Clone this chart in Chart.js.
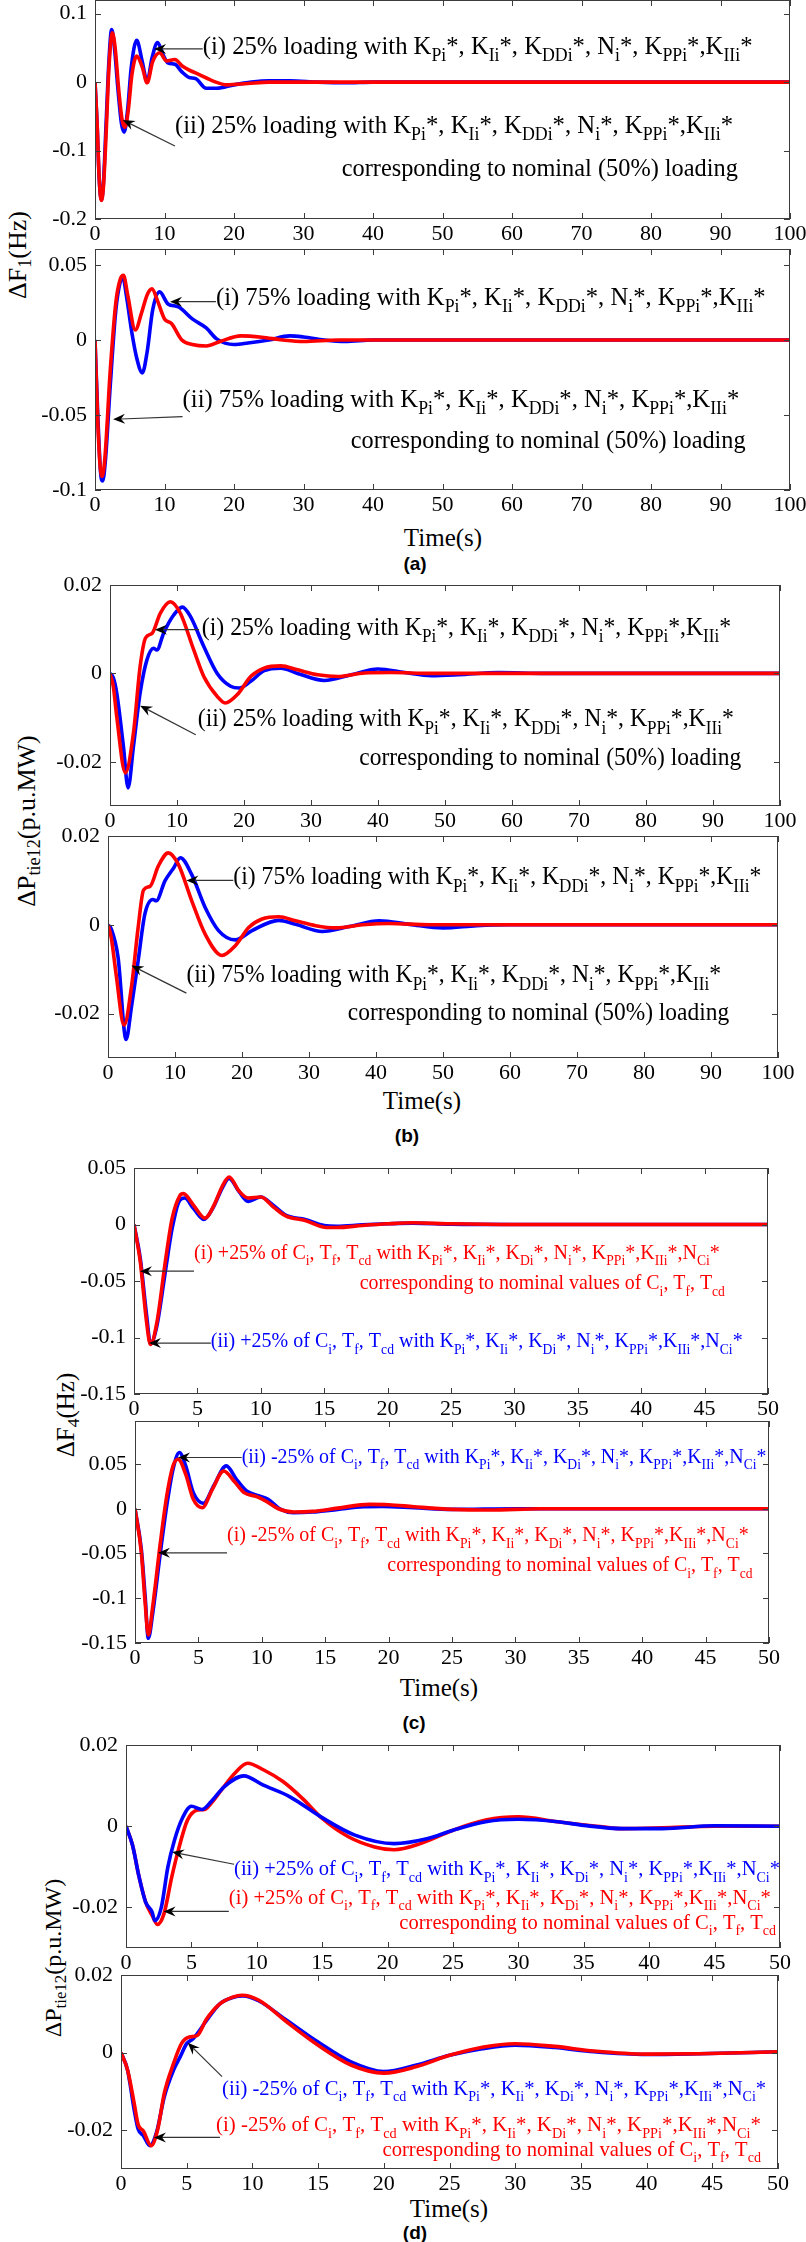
<!DOCTYPE html>
<html><head><meta charset="utf-8">
<script src="https://cdn.jsdelivr.net/npm/chart.js@4.4.0/dist/chart.umd.min.js"></script>
<style>
html,body{margin:0;padding:0;background:#fff;}
body{width:806px;height:2242px;position:relative;overflow:hidden;font-family:'Liberation Serif','Times New Roman','DejaVu Serif',serif;}
canvas.pl{position:absolute;left:0;}
.ylab{position:absolute;white-space:nowrap;transform:translate(-50%,-50%) rotate(-90deg);color:#000;line-height:1;}
.ylab sub{font-size:70%;vertical-align:-0.3em;line-height:0;}
.xlab{position:absolute;white-space:nowrap;transform:translate(-50%,-50%);font-size:25px;line-height:1;color:#000;}
.plab{position:absolute;transform:translate(-50%,-50%);font:bold 19px 'Liberation Sans',Arial,sans-serif;line-height:1;color:#000;}
</style></head><body>
<div class="ylab" style="left:18px;top:255px;font-size:26px;">ΔF<sub>1</sub>(Hz)</div>
<div class="ylab" style="left:27px;top:821px;font-size:26px;">ΔP<sub>tie12</sub>(p.u.MW)</div>
<div class="ylab" style="left:65px;top:1415px;font-size:25px;">ΔF<sub>4</sub>(Hz)</div>
<div class="ylab" style="left:53px;top:1958px;font-size:24px;">ΔP<sub>tie12</sub>(p.u.MW)</div>
<div class="xlab" style="left:443px;top:537px;">Time(s)</div>
<div class="xlab" style="left:422px;top:1100px;">Time(s)</div>
<div class="xlab" style="left:439px;top:1687px;">Time(s)</div>
<div class="xlab" style="left:449px;top:2208px;">Time(s)</div>
<div class="plab" style="left:415px;top:563px;">(a)</div>
<div class="plab" style="left:407px;top:1135px;">(b)</div>
<div class="plab" style="left:414px;top:1722px;">(c)</div>
<div class="plab" style="left:415px;top:2232px;">(d)</div>
<script>
// ---------- tick values / labels ----------
const xTicks100 = [0,10,20,30,40,50,60,70,80,90,100];
const xLabels100 = ['0','10','20','30','40','50','60','70','80','90','100'];
const xTicks50 = [0,5,10,15,20,25,30,35,40,45,50];
const xLabels50 = ['0','5','10','15','20','25','30','35','40','45','50'];
const yTicksA1 = [-0.2,-0.1,0,0.1];          const yLabelsA1 = ['-0.2','-0.1','0','0.1'];
const yTicksA2 = [-0.1,-0.05,0,0.05];        const yLabelsA2 = ['-0.1','-0.05','0','0.05'];
const yTicksB = [-0.02,0,0.02];              const yLabelsB = ['-0.02','0','0.02'];
const yTicksC = [-0.15,-0.1,-0.05,0,0.05];   const yLabelsC = ['-0.15','-0.1','-0.05','0','0.05'];
const yTicksD = [-0.02,0,0.02];              const yLabelsD = ['-0.02','0','0.02'];

// ---------- (a) top: 25% loading ----------
const aTopTBlue = [0,0.3,0.6,0.9,1.2,1.6,2.0,2.4,2.8,3.3,3.8,4.2,4.7,5.2,6.0,6.8,7.5,8.2,9.0,9.8,10.5,11.5,12.5,13.5,14.5,16,17.5,20,22.5,25,28,32,36,40,100];
const aTopBlue  = [0,-0.06,-0.14,-0.172,-0.15,-0.06,0.03,0.077,0.05,-0.01,-0.06,-0.073,-0.04,0.02,0.061,0.03,0.001,0.035,0.058,0.04,0.028,0.026,0.015,0.007,0.005,-0.009,-0.009,-0.004,0,0.002,0.002,0,-0.001,0,0];
const aTopTRed  = [0,0.3,0.6,0.9,1.2,1.6,2.0,2.5,2.9,3.4,3.9,4.3,4.8,5.3,6.0,6.8,7.5,8.3,9.3,10.3,11.5,12.5,13.5,15,17,19,22,25,100];
const aTopRed   = [0,-0.06,-0.14,-0.173,-0.155,-0.075,0.02,0.072,0.05,-0.01,-0.055,-0.066,-0.04,0.01,0.038,0.022,-0.001,0.03,0.043,0.031,0.033,0.024,0.018,0.011,0.0015,-0.004,-0.002,0,0];
// ---------- (a) bottom: 75% loading ----------
const aBotTBlue = [0,0.4,0.8,1.1,1.5,2.2,3.0,3.6,4.0,4.5,5.3,6.0,6.8,7.5,8.3,9.3,10.5,12,14,16,17.5,20,22,25,28,30,33,36,40,100];
const aBotBlue  = [0,-0.05,-0.088,-0.094,-0.08,-0.03,0.02,0.038,0.042,0.03,0.005,-0.012,-0.022,-0.008,0.02,0.032,0.024,0.022,0.014,0.008,0.0007,-0.003,-0.002,0,0.0027,0.002,0,-0.001,0,0];
const aBotTRed  = [0,0.4,0.75,1.0,1.4,2.2,3.0,3.6,4.1,4.7,5.8,6.7,7.5,8.2,9,10,11,12.5,14,16,18,21,24,27,30,35,100];
const aBotRed   = [0,-0.055,-0.085,-0.091,-0.08,-0.02,0.025,0.04,0.043,0.03,0.0067,0.018,0.03,0.034,0.026,0.014,0.011,0,-0.003,-0.004,-0.001,0.0027,0.0018,0,-0.001,0,0];
// ---------- (b) top ----------
const bTopTBlue = [0,0.5,1,2,2.7,3.5,4.5,5.5,6.5,7,8,9.5,10.8,12,14,16,18,19.3,21,23,25.5,28,32,36,40,44,48,52,58,65,100];
const bTopBlue  = [0,-0.001,-0.0044,-0.0165,-0.0259,-0.0165,-0.0044,0.003,0.0057,0.0053,0.0091,0.0132,0.015,0.0129,0.0061,0,-0.0029,-0.0033,-0.0018,0.0006,0.0012,0,-0.0016,-0.0003,0.001,0.0002,-0.0005,-0.0003,0.0002,0,0];
const bTopTRed  = [0,0.5,1,2.3,3.5,4.5,5.3,6.3,7.5,9,10.5,12.5,14,16,17.2,19,21,23,25.5,28,31,34,38,42,48,100];
const bTopRed   = [0,-0.003,-0.0097,-0.0225,-0.0135,0.0016,0.008,0.0091,0.0136,0.0162,0.0136,0.0053,-0.0007,-0.0052,-0.0067,-0.0048,-0.0007,0.0012,0.0017,0.0008,-0.0003,-0.0007,0.0001,0.0002,0,0];
// ---------- (b) bottom ----------
const bBotTBlue = [0,0.5,1.5,2.7,3.5,4.5,5.5,6.7,7.2,8.5,9.8,10.8,12.5,14.5,16.5,19,21.5,25.5,28,32,36,40.5,45,50,55,60,100];
const bBotBlue  = [0,-0.001,-0.0073,-0.0258,-0.0185,-0.0081,0.0024,0.0057,0.0054,0.0099,0.0128,0.0151,0.0113,0.0039,-0.0013,-0.0034,-0.0013,0.001,0.0001,-0.0015,-0.0004,0.0009,0.0001,-0.0007,-0.0002,0,0];
const bBotTRed  = [0,0.5,1.2,2.4,3.5,4.5,5.3,6.3,7.5,9,10.5,12.5,14.5,17,19,21,23,25.5,28,31,34,38,42,48,100];
const bBotRed   = [0,-0.003,-0.011,-0.0226,-0.014,-0.0006,0.0078,0.0087,0.0132,0.0162,0.0136,0.0054,-0.0021,-0.0069,-0.0047,-0.0006,0.0013,0.0018,0.0009,-0.0002,-0.0007,0,0.0003,0,0];
// ---------- (c) top: +25% ----------
const cTopTBlue = [0,0.5,1,1.3,1.8,2.5,3,3.6,4,4.7,5.5,6.2,7,7.5,8.3,9,10,11,12,13.5,15,16,18,20,22,25,30,50];
const cTopBlue  = [0,-0.0306,-0.081,-0.1056,-0.09,-0.0395,-0.004,0.0214,0.0234,0.014,0.0045,0.014,0.0332,0.0407,0.0288,0.0205,0.0243,0.0169,0.008,0.0045,-0.0009,-0.0015,-0.0003,0.0006,0.0012,0.0003,0,0];
const cTopTRed  = [0,0.5,1,1.3,1.8,2.5,3,3.6,3.9,4.7,5.6,6.3,7,7.5,8.3,9,10,11,12,13.5,15,16,18,20,22,25,30,50];
const cTopRed   = [0,-0.0335,-0.087,-0.1062,-0.087,-0.0306,0.005,0.0252,0.0273,0.0169,0.0056,0.0169,0.0347,0.0421,0.0294,0.0234,0.0243,0.0154,0.0074,0.0036,-0.0024,-0.0027,-0.0009,0.0006,0.0015,0.0006,0,0];
// ---------- (c) bottom: -25% ----------
const cBotTBlue = [0,0.5,0.8,1.05,1.4,2,2.5,3,3.5,4,4.6,5.4,6.2,7.2,8,8.8,9.8,10.5,11.5,12.5,14,16,18,19.5,22,25,30,50];
const cBotBlue  = [0,-0.0456,-0.098,-0.1447,-0.1166,-0.049,0.003,0.044,0.0628,0.0479,0.018,0.006,0.0254,0.0479,0.0329,0.0198,0.0142,0.0105,-0.0007,-0.0045,-0.0037,-0.0007,0.0022,0.0026,0.0011,-0.0007,0,0];
const cBotTRed  = [0,0.5,0.8,1.05,1.4,2,2.5,3,3.4,4,4.6,5.3,6.1,7,7.8,8.6,9.6,10.3,11.3,12.5,14,16,18.5,20,22,25,28,32,50];
const cBotRed   = [0,-0.049,-0.105,-0.141,-0.109,-0.038,0.014,0.048,0.0553,0.0385,0.0105,0.0011,0.0217,0.0422,0.031,0.018,0.0135,0.0086,0,-0.0037,-0.003,0.0007,0.0049,0.0045,0.0022,-0.0007,-0.0015,0,0];
// ---------- (d) top: +25% ----------
const dTopTBlue = [0,0.5,1,1.5,2,2.2,2.7,3.2,3.7,4.3,5,5.8,6.5,7.5,9,10.5,12.5,15,17.5,20.5,23,25,27.5,30,33,35,38,41,45,50];
const dTopBlue  = [0,-0.0047,-0.0125,-0.0187,-0.0212,-0.0233,-0.02,-0.0101,-0.0035,0.0019,0.0049,0.0041,0.006,0.0097,0.0124,0.0101,0.0073,0.0021,-0.0022,-0.0043,-0.0031,-0.001,0.0011,0.0017,0.0011,0.0002,-0.0006,-0.0006,0.0001,0];
const dTopTRed  = [0,0.5,1,1.5,2,2.4,2.9,3.5,4,4.7,5.5,6,6.5,7.2,8.3,9.3,10.5,12,13.5,15,17,19,20.5,22.5,25,27.5,30,33,36,38,41,45,50];
const dTopRed   = [0,-0.0047,-0.0125,-0.0187,-0.022,-0.0242,-0.0216,-0.0125,-0.0059,0.0015,0.004,0.0041,0.0056,0.0085,0.013,0.0155,0.0139,0.011,0.0068,0.0019,-0.0026,-0.0051,-0.0058,-0.0043,-0.001,0.0015,0.0023,0.0011,0,-0.0006,-0.0004,0,0];
// ---------- (d) bottom: -25% ----------
const dBotTBlue = [0,0.5,1,1.3,1.7,2.2,2.7,3.3,4,4.5,5,5.5,6.5,7.5,8.5,9.3,10.5,12.5,15,17.5,20,22.5,25,27.5,30,33,36,40,44,50];
const dBotBlue  = [0,-0.0045,-0.0147,-0.0197,-0.0214,-0.024,-0.0206,-0.0113,-0.0045,-0.0011,0.0023,0.0036,0.0082,0.0125,0.0142,0.0146,0.0133,0.0086,0.0027,-0.0024,-0.0049,-0.0032,-0.0007,0.001,0.0019,0.0013,0.0002,-0.0005,-0.0003,0.0002];
const dBotTRed  = [0,0.5,1,1.3,1.7,2.3,2.8,3.3,4,4.6,5.2,5.8,6.5,7.5,8.5,9.2,10.5,12.5,15,17.5,20,22.5,25,27.5,30,33,36,40,44,50];
const dBotRed   = [0,-0.0045,-0.013,-0.0185,-0.0202,-0.024,-0.0197,-0.0104,-0.0028,0.0023,0.004,0.0044,0.0086,0.0125,0.0143,0.0148,0.0135,0.0082,0.0019,-0.0032,-0.0053,-0.0036,-0.0007,0.0014,0.0023,0.0016,0.0004,-0.0004,-0.0003,0.0002];

// ---------- annotation texts ----------
const KA = 'K_{Pi}*, K_{Ii}*, K_{DDi}*, N_{i}*, K_{PPi}*,K_{IIi}*';
const KC = 'K_{Pi}*, K_{Ii}*, K_{Di}*, N_{i}*, K_{PPi}*,K_{IIi}*,N_{Ci}*';
const CTT = 'C_{i}, T_{f}, T_{cd}';
const txtA1i = '(i) 25% loading with ' + KA;
const txtA1ii = '(ii) 25% loading with ' + KA;
const txtA2i = '(i) 75% loading with ' + KA;
const txtA2ii = '(ii) 75% loading with ' + KA;
const txtNom = 'corresponding to nominal (50%) loading';
const txtCp_i = '(i) +25% of ' + CTT + ' with ' + KC;
const txtCp_ii = '(ii) +25% of ' + CTT + ' with ' + KC;
const txtCm_i = '(i) -25% of ' + CTT + ' with ' + KC;
const txtCm_ii = '(ii) -25% of ' + CTT + ' with ' + KC;
const txtNomC = 'corresponding to nominal values of ' + CTT;

const BLUE = '#0000ff', RED = '#ff0000', BLK = '#000000';

// ---------- panel layout ----------
const panels = [
 {L:95,R:790,T:0,B:219,yMin:-0.2,yMax:0.12,xMax:100,xT:xTicks100,xL:xLabels100,yT:yTicksA1,yL:yLabelsA1,
  series:[[aTopTRed,aTopRed,RED],[aTopTBlue,aTopBlue,BLUE]], fs:25,
  notes:[{s:txtA1i,c:BLK,x0:15.5,x1:94.6,y:0.0413,ar:[[15.5,0.0485],[8.5,0.0485]]},
         {s:txtA1ii,c:BLK,x0:11.5,x1:91.8,y:-0.0739,ar:[[11.5,-0.0933],[4.0,-0.0554]]},
         {s:txtNom,c:BLK,x0:35.5,x1:92.5,y:-0.137}]},
 {L:95,R:790,T:249,B:490,yMin:-0.1,yMax:0.0606,xMax:100,xT:xTicks100,xL:xLabels100,yT:yTicksA2,yL:yLabelsA2,
  series:[[aBotTRed,aBotRed,RED],[aBotTBlue,aBotBlue,BLUE]], fs:25,
  notes:[{s:txtA2i,c:BLK,x0:17.4,x1:96.5,y:0.0233,ar:[[17.4,0.0255],[10.8,0.0255]]},
         {s:txtA2ii,c:BLK,x0:12.6,x1:92.7,y:-0.0445,ar:[[12.6,-0.0511],[2.6,-0.0529]]},
         {s:txtNom,c:BLK,x0:36.8,x1:93.6,y:-0.0722}]},
 {L:110,R:780,T:585,B:806,yMin:-0.03,yMax:0.02,xMax:100,xT:xTicks100,xL:xLabels100,yT:yTicksB,yL:yLabelsB,
  series:[[bTopTRed,bTopRed,RED],[bTopTBlue,bTopBlue,BLUE]], fs:25,
  notes:[{s:txtA1i,c:BLK,x0:13.7,x1:92.7,y:0.00876,ar:[[13.3,0.00989],[6.7,0.00989]]},
         {s:txtA1ii,c:BLK,x0:13.1,x1:93.1,y:-0.0120,ar:[[12.8,-0.01387],[4.5,-0.0073]]},
         {s:txtNom,c:BLK,x0:37.2,x1:94.2,y:-0.02066}]},
 {L:108,R:778,T:836,B:1058,yMin:-0.03,yMax:0.02,xMax:100,xT:xTicks100,xL:xLabels100,yT:yTicksB,yL:yLabelsB,
  series:[[bBotTRed,bBotRed,RED],[bBotTBlue,bBotBlue,BLUE]], fs:25,
  notes:[{s:txtA2i,c:BLK,x0:18.7,x1:97.5,y:0.00912,ar:[[18.7,0.0100],[11.7,0.0100]]},
         {s:txtA2ii,c:BLK,x0:11.7,x1:91.5,y:-0.01292,ar:[[11.7,-0.01539],[3.5,-0.00918]]},
         {s:txtNom,c:BLK,x0:35.8,x1:92.7,y:-0.0215}]},
 {L:134,R:768,T:1168,B:1394,yMin:-0.15,yMax:0.05,xMax:50,xT:xTicks50,xL:xLabels50,yT:yTicksC,yL:yLabelsC,
  series:[[cTopTRed,cTopRed,RED],[cTopTBlue,cTopBlue,BLUE]], fs:22,
  notes:[{s:txtCp_i,c:RED,x0:4.73,x1:46.2,y:-0.0304,ar:[[4.73,-0.0413],[0.47,-0.0413]]},
         {s:txtNomC,c:RED,x0:17.8,x1:46.6,y:-0.0570},
         {s:txtCp_ii,c:BLUE,x0:6.06,x1:48.0,y:-0.1087,ar:[[6.06,-0.1049],[1.18,-0.1049]]}]},
 {L:135,R:769,T:1421,B:1643,yMin:-0.15,yMax:0.098,xMax:50,xT:xTicks50,xL:xLabels50,yT:yTicksC,yL:yLabelsC,
  series:[[cBotTRed,cBotRed,RED],[cBotTBlue,cBotBlue,BLUE]], fs:22,
  notes:[{s:txtCm_ii,c:BLUE,x0:8.41,x1:49.8,y:0.0516,ar:[[8.41,0.0572],[3.39,0.0572]]},
         {s:txtCm_i,c:RED,x0:7.26,x1:48.4,y:-0.0363,ar:[[7.26,-0.0493],[1.81,-0.0493]]},
         {s:txtNomC,c:RED,x0:19.9,x1:48.7,y:-0.070}]},
 {L:126,R:780,T:1745,B:1948,yMin:-0.03,yMax:0.02,xMax:50,xT:xTicks50,xL:xLabels50,yT:yTicksD,yL:yLabelsD,
  series:[[dTopTBlue,dTopBlue,BLUE],[dTopTRed,dTopRed,RED]], fs:22,
  notes:[{s:txtCp_ii,c:BLUE,x0:8.26,x1:50,y:-0.0121,ar:[[8.26,-0.00938],[3.52,-0.00635]]},
         {s:txtCp_i,c:RED,x0:7.86,x1:49.3,y:-0.0191,ar:[[7.86,-0.0210],[2.87,-0.0210]]},
         {s:txtNomC,c:RED,x0:20.9,x1:49.7,y:-0.02526}]},
 {L:121,R:778,T:1975,B:2169,yMin:-0.03,yMax:0.02,xMax:50,xT:xTicks50,xL:xLabels50,yT:yTicksD,yL:yLabelsD,
  series:[[dBotTRed,dBotRed,RED],[dBotTBlue,dBotBlue,BLUE]], fs:22,
  notes:[{s:txtCm_ii,c:BLUE,x0:7.69,x1:49.1,y:-0.01085,ar:[[7.69,-0.0062],[5.08,0.00254]]},
         {s:txtCm_i,c:RED,x0:7.23,x1:48.7,y:-0.0202,ar:[[7.53,-0.02186],[2.51,-0.02186]]},
         {s:txtNomC,c:RED,x0:19.9,x1:48.7,y:-0.02653}]}
];

// ---------- drawing helpers ----------
const SERIF = "'Liberation Serif','Times New Roman','DejaVu Serif',serif";
function parseRich(s){
  const out=[]; let i=0, buf='';
  while(i<s.length){
    if(s[i]==='_' && s[i+1]==='{'){
      if(buf){out.push({t:buf,sub:false});buf='';}
      const j=s.indexOf('}',i); out.push({t:s.slice(i+2,j),sub:true}); i=j+1;
    } else { buf+=s[i]; i++; }
  }
  if(buf) out.push({t:buf,sub:false});
  return out;
}
function drawRich(ctx,s,x0,x1,y,size,color){
  const segs=parseRich(s);
  const fn=sub=>(sub?Math.round(size*0.7):size)+"px "+SERIF;
  let w=0; segs.forEach(g=>{ctx.font=fn(g.sub); w+=ctx.measureText(g.t).width;});
  const sx=(x1-x0)/w;
  ctx.save(); ctx.translate(x0,y); ctx.scale(sx,1);
  ctx.fillStyle=color; ctx.textBaseline='alphabetic'; ctx.textAlign='left';
  let x=0; segs.forEach(g=>{ctx.font=fn(g.sub); ctx.fillText(g.t,x,g.sub?size*0.3:0); x+=ctx.measureText(g.t).width;});
  ctx.restore();
}
function drawArrow(ctx,x1,y1,x2,y2){
  ctx.save(); ctx.strokeStyle='#333'; ctx.fillStyle='#000'; ctx.lineWidth=1.2;
  const a=Math.atan2(y2-y1,x2-x1), L=12, W=5, back=8;
  ctx.beginPath(); ctx.moveTo(x1,y1); ctx.lineTo(x2-Math.cos(a)*back,y2-Math.sin(a)*back); ctx.stroke();
  ctx.translate(x2,y2); ctx.rotate(a);
  ctx.beginPath(); ctx.moveTo(0,0); ctx.lineTo(-L,-W); ctx.lineTo(-back,0); ctx.lineTo(-L,W); ctx.closePath(); ctx.fill();
  ctx.restore();
}
const framePlugin = {
  id:'frame',
  afterDatasetsDraw(chart){
    const {ctx, chartArea:a, scales:{x,y}} = chart;
    ctx.save(); ctx.strokeStyle='#3c3c3c'; ctx.lineWidth=1;
    const tl=6; ctx.beginPath();
    x.ticks.forEach(t=>{const p=Math.round(x.getPixelForValue(t.value))+0.5;
      ctx.moveTo(p,a.bottom); ctx.lineTo(p,a.bottom-tl); ctx.moveTo(p,a.top); ctx.lineTo(p,a.top+tl);});
    y.ticks.forEach(t=>{const p=Math.round(y.getPixelForValue(t.value))+0.5;
      ctx.moveTo(a.left,p); ctx.lineTo(a.left+tl,p); ctx.moveTo(a.right,p); ctx.lineTo(a.right-tl,p);});
    ctx.stroke();
    ctx.strokeRect(Math.round(a.left)+0.5,Math.round(a.top)+0.5,Math.round(a.right-a.left)-1,Math.round(a.bottom-a.top)-1);
    ctx.restore();
    const notes = chart.options.plugins.notes.items, fs = chart.options.plugins.notes.fs;
    notes.forEach(n=>{
      if(n.ar){ drawArrow(ctx, x.getPixelForValue(n.ar[0][0]), y.getPixelForValue(n.ar[0][1]),
                               x.getPixelForValue(n.ar[1][0]), y.getPixelForValue(n.ar[1][1])); }
      drawRich(ctx, n.s, x.getPixelForValue(n.x0), x.getPixelForValue(n.x1), y.getPixelForValue(n.y), fs, n.c);
    });
  }
};

Chart.defaults.font.family = SERIF;
Chart.defaults.font.size = 22;
Chart.defaults.color = '#000';

const PADT = 12, XH = 30;
panels.forEach(p=>{
  const cv = document.createElement('canvas');
  cv.className='pl';
  const h = PADT + (p.B - p.T) + XH;
  cv.width = 806; cv.height = h;
  cv.style.top = (p.T - PADT) + 'px';
  cv.style.width='806px'; cv.style.height=h+'px';
  document.body.appendChild(cv);
  const datasets = p.series.map(([t,v,c])=>({
    data: t.map((tt,i)=>({x:tt,y:v[i]})),
    borderColor:c, backgroundColor:c, borderWidth:3.6, pointRadius:0,
    cubicInterpolationMode:'monotone', fill:false
  }));
  new Chart(cv,{
    type:'line',
    data:{datasets},
    options:{
      responsive:false, animation:false, devicePixelRatio:1,
      layout:{padding:{left:0,top:PADT,right:806-p.R,bottom:0}},
      plugins:{legend:{display:false},tooltip:{enabled:false},notes:{items:p.notes,fs:p.fs}},
      scales:{
        x:{type:'linear',min:0,max:p.xMax,
           grid:{display:false,drawTicks:false},border:{display:false},
           ticks:{autoSkip:false,maxRotation:0,padding:2,callback:(v,i)=>p.xL[i]},
           afterBuildTicks:s=>{s.ticks=p.xT.map(v=>({value:v}));},
           afterFit:s=>{s.height=XH; s.paddingLeft=0; s.paddingRight=0;}},
        y:{type:'linear',min:p.yMin,max:p.yMax,
           grid:{display:false,drawTicks:false},border:{display:false},
           ticks:{autoSkip:false,padding:8,callback:(v,i)=>p.yL[i]},
           afterBuildTicks:s=>{s.ticks=p.yT.map(v=>({value:v}));},
           afterFit:s=>{s.width=p.L; s.paddingTop=0; s.paddingBottom=0;}}
      }
    },
    plugins:[framePlugin]
  });
});
</script>
</body></html>
